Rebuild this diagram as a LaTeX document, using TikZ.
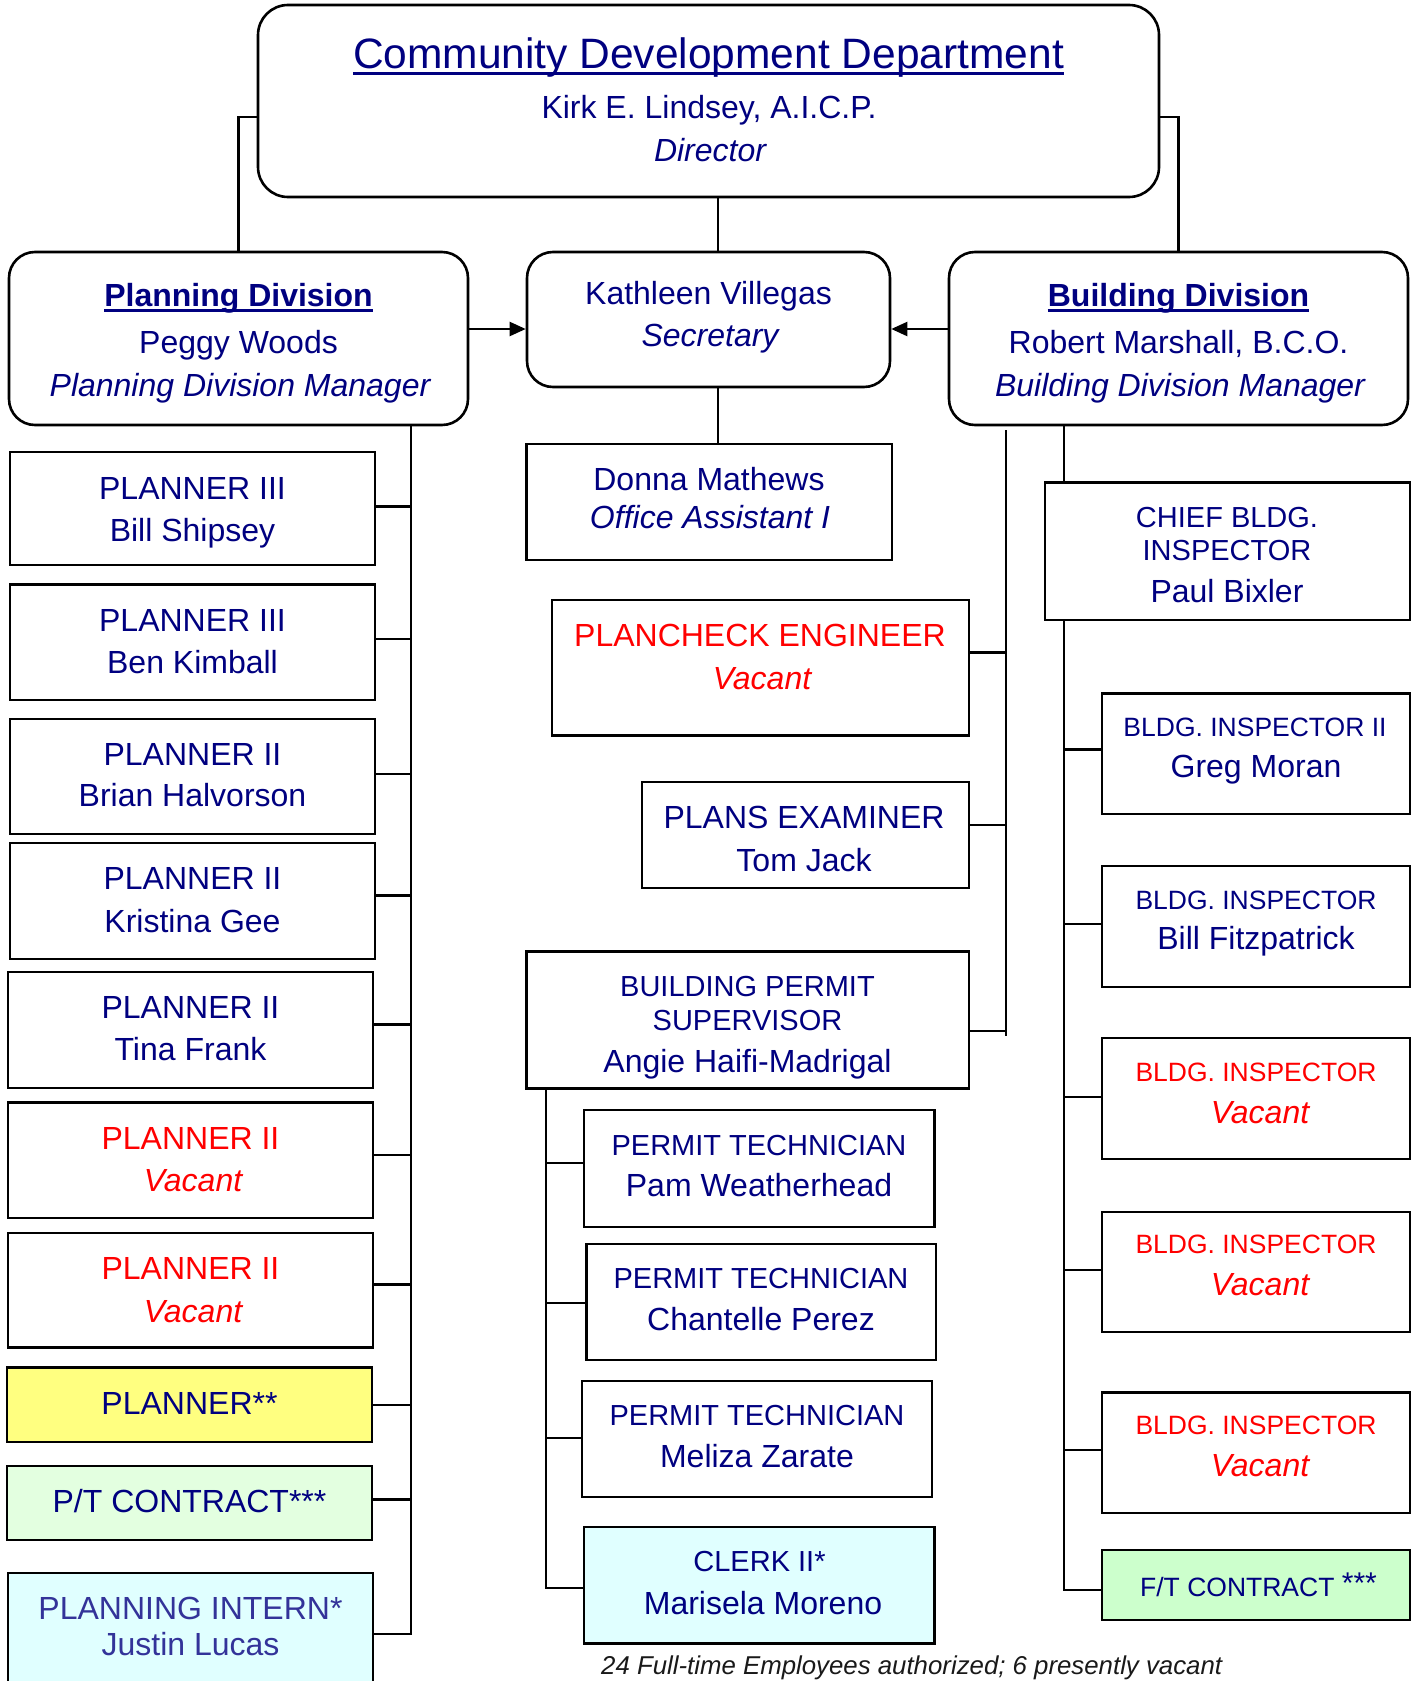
\documentclass[tikz,border=0pt]{standalone}
\usepackage{fontspec}
\setmainfont{Liberation Sans}
\usetikzlibrary{arrows.meta,fit}
\definecolor{navy}{RGB}{0,0,128}
\definecolor{vred}{RGB}{255,0,0}
\definecolor{ylw}{RGB}{255,255,128}
\definecolor{pgrn}{RGB}{227,255,224}
\definecolor{fgrn}{RGB}{204,255,204}
\definecolor{cyn}{RGB}{224,255,255}
\definecolor{interncol}{RGB}{51,51,153}
\definecolor{footcol}{RGB}{25,25,25}
\newcommand\bx[6]{\node[box,#6,fit={(#2,#3) (#4,#5)}] (#1) {};}
\newcommand\tline[5]{\node[tx,#1] (#2) at (#3,#4) {#5};}
\tikzset{
  box/.style={draw=black, line width=2.2pt, fill=white, inner sep=0pt},
  rbox/.style={line width=2.6pt, rounded corners=26pt},
  conn/.style={line width=2.2pt, draw=black},
  tx/.style={inner sep=0pt, anchor=base, text=navy},
  fA/.style={font=\fontsize{32}{38}\selectfont},
  fAi/.style={font=\fontsize{32}{38}\selectfont\itshape},
  fAb/.style={font=\fontsize{32}{38}\selectfont\bfseries},
  fB/.style={font=\fontsize{29}{35}\selectfont},
  fC/.style={font=\fontsize{26.5}{32}\selectfont},
  fT/.style={font=\fontsize{42.5}{50}\selectfont},
  vac/.style={text=vred},
  uline/.style={draw=navy, line width=2.6pt},
}
\begin{document}
\begin{tikzpicture}[x=1pt,y=-1pt]
\useasboundingbox (0,0) rectangle (1422,1681);

% ---- top rows (rounded boxes)
\bx{top}{258}{5}{1159}{197}{rbox, rounded corners=30pt}
\bx{plan}{9}{252}{468}{425}{rbox}
\bx{sec}{527}{252}{890}{387}{rbox}
\bx{bld}{949}{252}{1408}{425}{rbox}

% ---- planning column
\bx{p1}{10}{452}{375}{565}{}
\bx{p2}{10}{584.5}{375}{699.6}{}
\bx{p3}{10}{718.8}{375}{834}{}
\bx{p4}{10}{843}{375}{959}{}
\bx{p5}{8}{972}{373}{1088}{}
\bx{p6}{8}{1102.5}{373}{1218}{}
\bx{p7}{8}{1232.6}{373}{1347.4}{}
\bx{p8}{7}{1367.5}{372}{1442}{fill=ylw}
\bx{p9}{7}{1466}{372}{1540}{fill=pgrn}
\bx{intern}{8}{1572.7}{373}{1696}{fill=cyn}

% ---- middle column
\bx{donna}{526.5}{443.7}{891.6}{559.6}{}
\bx{pc}{552}{599.6}{968.6}{735.5}{}
\bx{pe}{641.8}{781.6}{968.6}{887.8}{}
\bx{sup}{526.5}{951.4}{968.6}{1088.5}{}
\bx{pam}{584}{1110}{934.5}{1227}{}
\bx{chan}{586.4}{1244}{936.3}{1360}{}
\bx{mel}{581.7}{1381}{932}{1497}{}
\bx{clerk}{584}{1527}{934.5}{1643.4}{fill=cyn}

% ---- building column
\bx{chief}{1045}{482.4}{1410}{619.6}{}
\bx{greg}{1102}{693.5}{1410}{814}{}
\bx{fitz}{1102}{866}{1410}{987}{}
\bx{bv1}{1102}{1038}{1410}{1159}{}
\bx{bv2}{1102}{1212}{1410}{1332}{}
\bx{bv3}{1102}{1392.4}{1410}{1513}{}
\bx{ft}{1102}{1550}{1410}{1620}{fill=fgrn}

% ---- connectors
\draw[conn] ([yshift=-16pt]top.west) -| (plan.north);
\draw[conn] ([yshift=-16pt]top.east) -| (bld.north);
\draw[conn] ([xshift=9.5pt]top.south) -- ([xshift=9.5pt]top.south |- sec.north);
\draw[conn] ([xshift=9.5pt]sec.south) -- ([xshift=9.5pt]sec.south |- donna.north);
\draw[conn, -{Triangle[length=16pt,width=14pt]}] ([yshift=9.5pt]plan.east) -- ([yshift=9.5pt]plan.east -| sec.west);
\draw[conn, -{Triangle[length=16pt,width=14pt]}] ([yshift=9.5pt]bld.west) -- ([yshift=9.5pt]bld.west -| sec.east);

\coordinate (pv) at (411,425);
\draw[conn] (pv) |- (intern.east);
\foreach \b/\s in {p1/2,p2/3,p3/2.4,p4/5.5,p5/5.5,p6/5,p7/5.5,p8/0,p9/3.5}
  {\draw[conn] ([yshift=\s pt]\b.east) -- ([yshift=\s pt]\b.east -| pv);}

\coordinate (bt1) at (1006,430);
\coordinate (bt1e) at (1006,1036);
\draw[conn] (bt1) -- (bt1e);
\foreach \b/\s in {pc/15,pe/9.4,sup/-11.4}
  {\draw[conn] ([yshift=\s pt]\b.east) -- ([yshift=\s pt]\b.east -| bt1);}

\coordinate (bt2) at (1064,425);
\draw[conn] (bt2) -- (bt2 |- chief.north);
\draw[conn] (bt2 |- chief.south) |- ([yshift=-5pt]ft.west);
\foreach \b/\s in {greg/4.3,fitz/2.5,bv1/1.5,bv2/2,bv3/2.7}
  {\draw[conn] ([yshift=\s pt]\b.west) -- ([yshift=\s pt]\b.west -| bt2);}

\coordinate (sv) at (546,1089);
\draw[conn] (sv) |- ([yshift=-3pt]clerk.west);
\foreach \b/\s in {pam/5.5,chan/-1,mel/1}
  {\draw[conn] ([yshift=\s pt]\b.west) -- ([yshift=\s pt]\b.west -| sv);}

% ---- texts: top
\tline{fT}{ttl}{708.5}{68}{Community Development Department}
\draw[uline, line width=3pt] ([yshift=-5pt]ttl.base west) -- ([yshift=-5pt]ttl.base east);
\tline{fA}{ttl2}{709}{118}{Kirk E. Lindsey, A.I.C.P.}
\tline{fAi}{ttl3}{710}{161}{Director}

\tline{fAb}{pl1}{238.5}{306}{Planning Division}
\draw[uline] ([yshift=-4.5pt]pl1.base west) -- ([yshift=-4.5pt]pl1.base east);
\tline{fA}{pl2}{238.5}{353}{Peggy Woods}
\tline{fAi}{pl3}{240}{396}{Planning Division Manager}

\tline{fA}{se1}{708.5}{304}{Kathleen Villegas}
\tline{fAi}{se2}{710}{346.7}{Secretary}

\tline{fAb}{bd1}{1178.5}{306}{Building Division}
\draw[uline] ([yshift=-4.5pt]bd1.base west) -- ([yshift=-4.5pt]bd1.base east);
\tline{fA}{bd2}{1178.5}{353}{Robert Marshall, B.C.O.}
\tline{fAi}{bd3}{1180}{396}{Building Division Manager}

% ---- texts: planning column
\tline{fA}{p1a}{192.5}{499.5}{PLANNER III}
\tline{fA}{p1b}{192.5}{541}{Bill Shipsey}
\tline{fA}{p2a}{192.5}{631.4}{PLANNER III}
\tline{fA}{p2b}{192.5}{673}{Ben Kimball}
\tline{fA}{p3a}{192.5}{765}{PLANNER II}
\tline{fA}{p3b}{192.5}{806}{Brian Halvorson}
\tline{fA}{p4a}{192.5}{889.4}{PLANNER II}
\tline{fA}{p4b}{192.5}{932}{Kristina Gee}
\tline{fA}{p5a}{190.5}{1018}{PLANNER II}
\tline{fA}{p5b}{190.5}{1060.4}{Tina Frank}
\tline{fA,vac}{p6a}{190.5}{1149.6}{PLANNER II}
\tline{fAi,vac}{p6b}{193}{1191}{Vacant}
\tline{fA,vac}{p7a}{190.5}{1279}{PLANNER II}
\tline{fAi,vac}{p7b}{193}{1322}{Vacant}
\tline{fA}{p8a}{189.5}{1414}{PLANNER**}
\tline{fA}{p9a}{189.5}{1512}{P/T CONTRACT***}
\tline{fA,text=interncol}{ina}{190.5}{1619.7}{PLANNING INTERN*}
\tline{fA,text=interncol}{inb}{190.5}{1655.3}{Justin Lucas}

% ---- texts: middle column
\tline{fA}{dna}{709}{490.5}{Donna Mathews}
\tline{fAi}{dnb}{710}{528}{Office Assistant I}
\tline{fA,vac}{pca}{760}{646.5}{PLANCHECK ENGINEER}
\tline{fAi,vac}{pcb}{762}{689.4}{Vacant}
\tline{fA}{pea}{804}{828}{PLANS EXAMINER}
\tline{fA}{peb}{804}{871}{Tom Jack}
\tline{fB}{sua}{747.5}{996.3}{BUILDING PERMIT}
\tline{fB}{sub}{747.5}{1030}{SUPERVISOR}
\tline{fA}{suc}{747.5}{1072}{Angie Haifi-Madrigal}
\tline{fB}{pama}{759}{1155.7}{PERMIT TECHNICIAN}
\tline{fA}{pamb}{759}{1196.6}{Pam Weatherhead}
\tline{fB}{chana}{761}{1288.6}{PERMIT TECHNICIAN}
\tline{fA}{chanb}{761}{1330.3}{Chantelle Perez}
\tline{fB}{mela}{757}{1425.5}{PERMIT TECHNICIAN}
\tline{fA}{melb}{757}{1467.2}{Meliza Zarate}
\tline{fB}{cla}{759.5}{1571.5}{CLERK II*}
\tline{fA}{clb}{763}{1614.4}{Marisela Moreno}

% ---- texts: building column
\tline{fB}{cha}{1227}{527}{CHIEF BLDG.}
\tline{fB}{chb}{1227}{560.8}{INSPECTOR}
\tline{fA}{chc}{1227}{602.9}{Paul Bixler}
\tline{fC}{gra}{1255}{736.3}{BLDG. INSPECTOR II}
\tline{fA}{grb}{1256}{777}{Greg Moran}
\tline{fC}{fia}{1256}{909}{BLDG. INSPECTOR}
\tline{fA}{fib}{1256}{949.8}{Bill Fitzpatrick}
\tline{fC,vac}{v1a}{1256}{1081}{BLDG. INSPECTOR}
\tline{fAi,vac}{v1b}{1260}{1123}{Vacant}
\tline{fC,vac}{v2a}{1256}{1253.8}{BLDG. INSPECTOR}
\tline{fAi,vac}{v2b}{1260}{1295.5}{Vacant}
\tline{fC,vac}{v3a}{1256}{1434.5}{BLDG. INSPECTOR}
\tline{fAi,vac}{v3b}{1260}{1476.6}{Vacant}
\tline{fC}{fta}{1258.5}{1596}{F/T CONTRACT \raisebox{3pt}{\fontsize{30}{30}\selectfont***}}

% ---- footer
\node[inner sep=0pt, anchor=base west, text=footcol, font=\fontsize{25.8}{30}\selectfont\itshape] (foot) at (601,1674) {24 Full-time Employees authorized; 6 presently vacant};
\end{tikzpicture}
\end{document}
